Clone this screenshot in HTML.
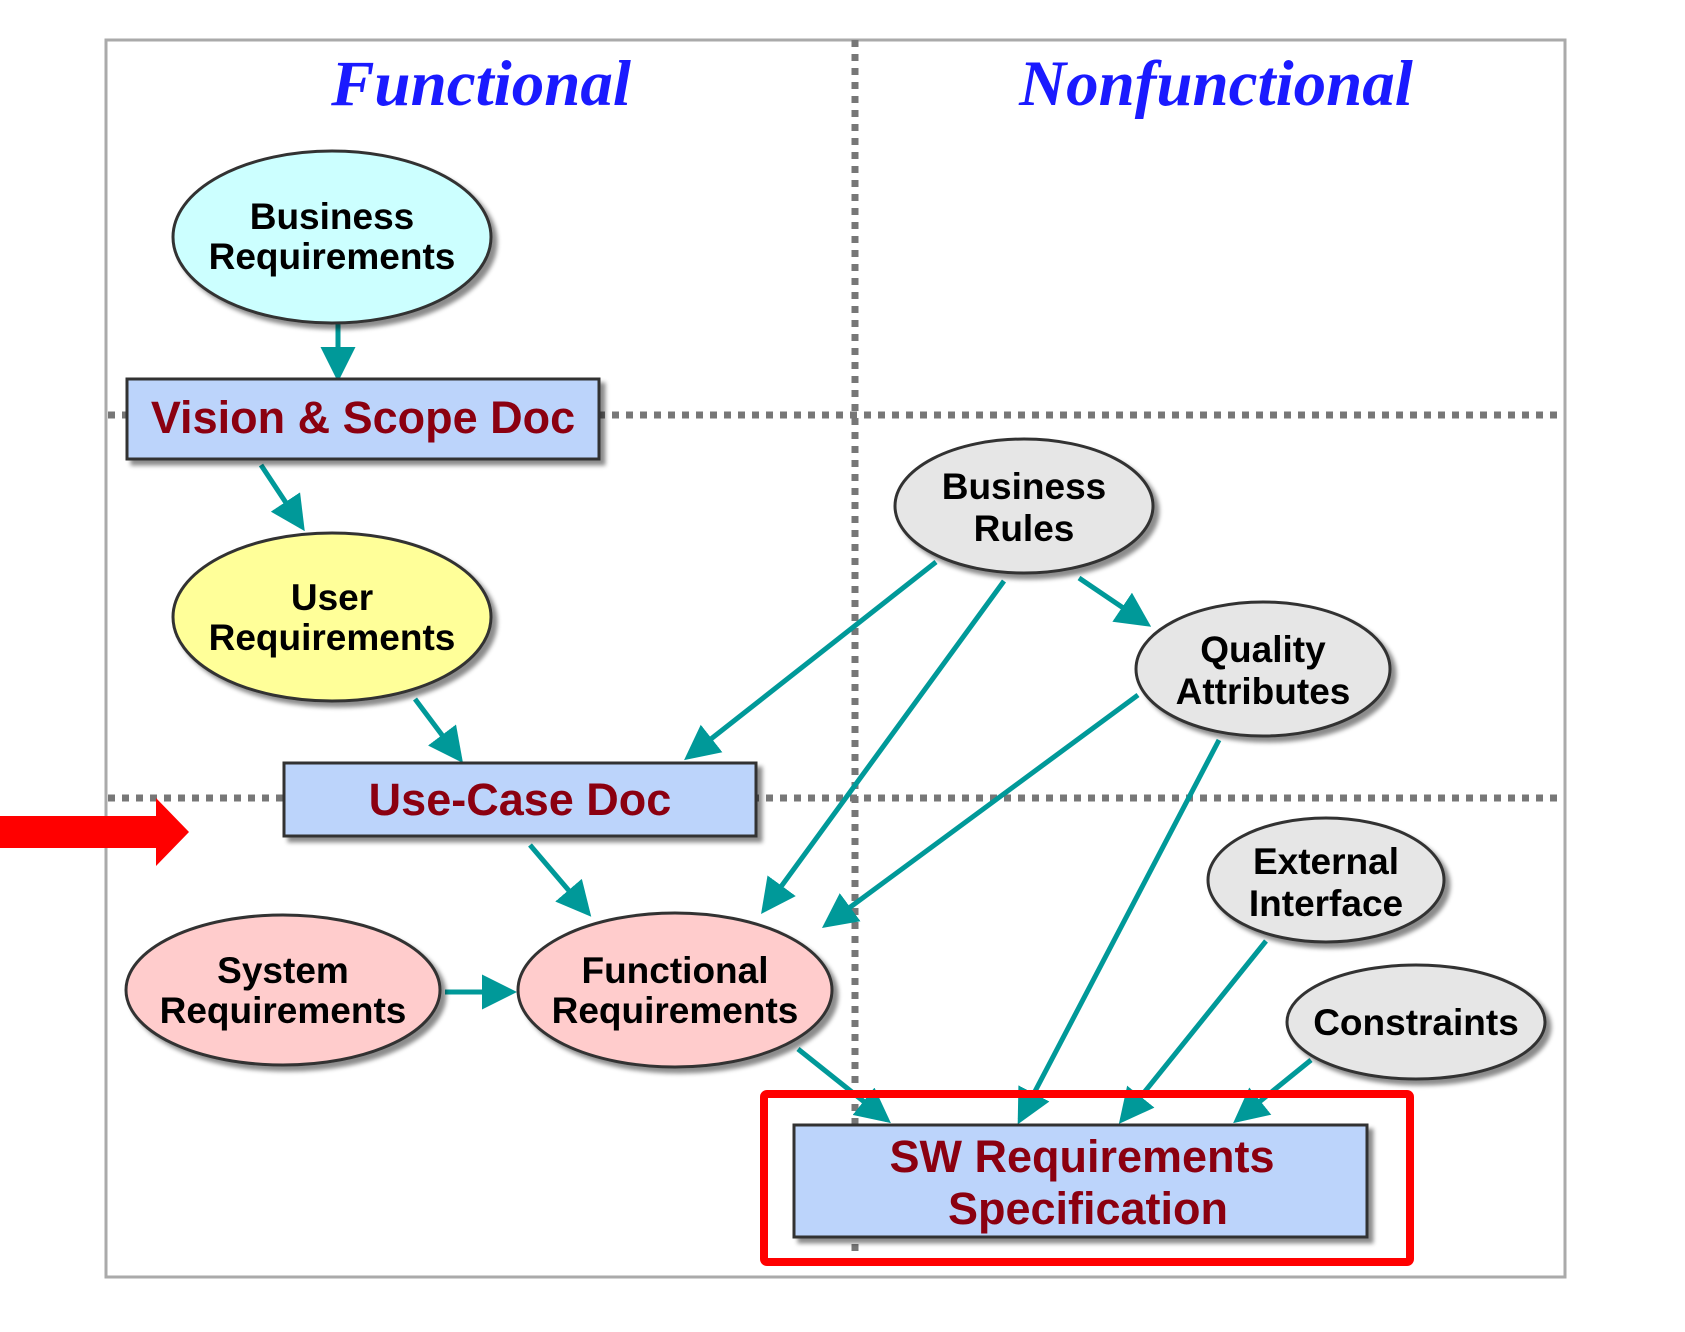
<!DOCTYPE html>
<html><head><meta charset="utf-8"><style>
html,body{margin:0;padding:0;background:#fff;}
svg{display:block;}
.t{font-family:"Liberation Sans",sans-serif;font-weight:bold;font-size:37px;fill:#000;text-anchor:middle;}
.r{font-family:"Liberation Sans",sans-serif;font-weight:bold;font-size:45px;fill:#8b0010;text-anchor:middle;}
.h{font-family:"Liberation Serif",serif;font-weight:bold;font-style:italic;font-size:65px;fill:#1a1aff;text-anchor:middle;}
</style></head><body>
<svg width="1685" height="1332" viewBox="0 0 1685 1332" xmlns="http://www.w3.org/2000/svg">
<defs>
<marker id="a" markerWidth="7" markerHeight="7" refX="6" refY="3.5" orient="auto" markerUnits="strokeWidth">
<path d="M0,0 L7,3.5 L0,7 Z" fill="#009999"/></marker>
<filter id="s" x="-10%" y="-10%" width="130%" height="130%"><feDropShadow dx="5" dy="5" stdDeviation="2" flood-color="#000" flood-opacity="0.45"/></filter>
</defs>
<rect x="106" y="40" width="1459" height="1237" fill="#fff" stroke="#aaa" stroke-width="3"/>
<line x1="855" y1="40" x2="855" y2="1262" stroke="#777" stroke-width="7" stroke-dasharray="7,7"/>
<line x1="108" y1="415" x2="1563" y2="415" stroke="#777" stroke-width="7" stroke-dasharray="7,7"/>
<line x1="108" y1="798" x2="1563" y2="798" stroke="#777" stroke-width="7" stroke-dasharray="7,7"/>
<text class="h" x="481" y="105">Functional</text>
<text class="h" x="1216" y="105">Nonfunctional</text>

<g stroke="#009999" stroke-width="5" fill="none" marker-end="url(#a)">
<line x1="338" y1="307" x2="338" y2="377"/>
<line x1="261" y1="465" x2="302" y2="527"/>
<line x1="415" y1="699" x2="460" y2="759"/>
<line x1="936" y1="562" x2="688" y2="757"/>
<line x1="1004" y1="581" x2="764" y2="910"/>
<line x1="1079" y1="578" x2="1147" y2="624"/>
<line x1="1138" y1="695" x2="826" y2="925"/>
<line x1="530" y1="845" x2="588" y2="913"/>
<line x1="445" y1="992" x2="512" y2="992"/>
<line x1="798" y1="1049" x2="887" y2="1120"/>
<line x1="1219" y1="740" x2="1020" y2="1120"/>
<line x1="1266" y1="941" x2="1122" y2="1120"/>
<line x1="1311" y1="1060" x2="1237" y2="1120"/>
</g>

<g stroke="#333" stroke-width="3" filter="url(#s)">
<ellipse cx="332" cy="237" rx="159" ry="86" fill="#ccffff"/>
<rect x="127" y="379" width="472" height="80" fill="#bcd4fb"/>
<ellipse cx="332" cy="617" rx="159" ry="84" fill="#ffff99"/>
<rect x="284" y="763" width="472" height="73" fill="#bcd4fb"/>
<ellipse cx="283" cy="990" rx="157" ry="75" fill="#ffcccc"/>
<ellipse cx="675" cy="990" rx="157" ry="77" fill="#ffcccc"/>
<ellipse cx="1024" cy="506" rx="129" ry="67" fill="#e6e6e6"/>
<ellipse cx="1263" cy="669" rx="127" ry="67" fill="#e6e6e6"/>
<ellipse cx="1326" cy="880" rx="118" ry="62" fill="#e6e6e6"/>
<ellipse cx="1416" cy="1022" rx="129" ry="57" fill="#e6e6e6"/>
<rect x="794" y="1125" width="573" height="112" fill="#bcd4fb"/>
</g>

<text class="t" x="332" y="229">Business</text>
<text class="t" x="332" y="269">Requirements</text>
<text class="r" x="363" y="433">Vision &amp; Scope Doc</text>
<text class="t" x="332" y="610">User</text>
<text class="t" x="332" y="650">Requirements</text>
<text class="r" x="520" y="815">Use-Case Doc</text>
<text class="t" x="283" y="983">System</text>
<text class="t" x="283" y="1023">Requirements</text>
<text class="t" x="675" y="983">Functional</text>
<text class="t" x="675" y="1023">Requirements</text>
<text class="t" x="1024" y="499">Business</text>
<text class="t" x="1024" y="541">Rules</text>
<text class="t" x="1263" y="662">Quality</text>
<text class="t" x="1263" y="704">Attributes</text>
<text class="t" x="1326" y="874">External</text>
<text class="t" x="1326" y="916">Interface</text>
<text class="t" x="1416" y="1035">Constraints</text>
<text class="r" x="1082" y="1172">SW Requirements</text>
<text class="r" x="1088" y="1224">Specification</text>

<rect x="764" y="1094" width="646" height="168" fill="none" stroke="#ff0000" stroke-width="8" rx="3"/>
<path d="M0,816 L156,816 L156,798 L189,832 L156,866 L156,848 L0,848 Z" fill="#ff0000"/>
</svg>
</body></html>
